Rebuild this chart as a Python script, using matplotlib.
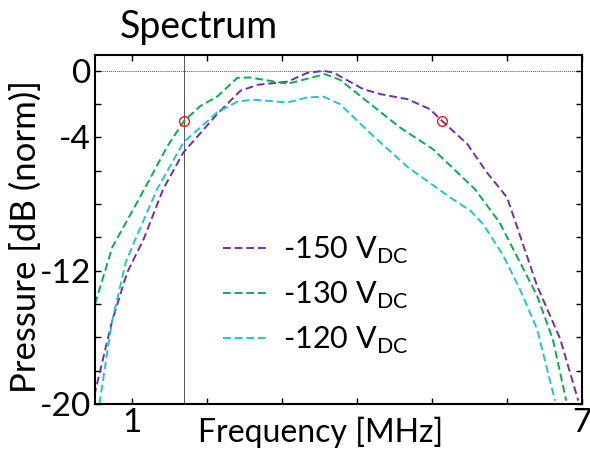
import matplotlib
matplotlib.use("Agg")
import matplotlib.pyplot as plt
from matplotlib.ticker import MultipleLocator, FuncFormatter

plt.rcParams['font.family'] = ['Lato', 'DejaVu Sans']

# Data (frequency in MHz, pressure in dB normalized)
freq_150 = [0.49, 0.67, 0.73, 0.93, 1.15, 1.41, 1.68, 2.13, 2.44, 2.67, 3.07, 3.33, 3.55, 3.68, 4.08, 4.31, 4.67, 4.97, 5.13, 5.47, 5.73, 6.0, 6.4, 6.71, 6.95]
p_150 = [-19.5, -16.1, -15.0, -12.1, -10.1, -7.1, -4.9, -2.6, -1.2, -0.84, -0.65, -0.13, 0.0, -0.1, -1.1, -1.4, -1.7, -2.3, -3.0, -4.4, -6.1, -7.6, -12.9, -16.1, -19.8]

freq_130 = [0.5, 0.73, 1.11, 1.47, 1.69, 1.91, 2.13, 2.4, 2.57, 3.07, 3.57, 3.77, 4.57, 5.01, 5.57, 5.9, 6.4, 6.61, 6.79]
p_130 = [-14.0, -10.6, -7.5, -4.5, -3.0, -2.1, -1.55, -0.42, -0.4, -0.78, -0.2, -0.54, -3.4, -4.7, -7.1, -9.1, -13.5, -16.1, -19.8]

freq_120 = [0.56, 0.67, 0.73, 0.91, 1.04, 1.33, 1.68, 2.13, 2.4, 2.61, 3.07, 3.33, 3.55, 3.77, 4.21, 4.68, 5.24, 5.51, 5.68, 5.95, 6.17, 6.4, 6.64]
p_120 = [-20.0, -16.7, -15.0, -11.5, -10.1, -7.1, -4.3, -2.5, -1.85, -1.73, -1.9, -1.6, -1.55, -2.0, -3.9, -5.8, -7.6, -8.4, -9.2, -11.1, -13.1, -15.5, -19.8]

series_labels = ['-150 V$_{\\mathregular{DC}}$', '-130 V$_{\\mathregular{DC}}$', '-120 V$_{\\mathregular{DC}}$']
colors = ['#7030A0', '#00B050', '#1CC8D0']

marker_freq = [1.69, 5.13]
marker_p = [-3.0, -3.0]
vline_freq = 1.69

fig = plt.figure(figsize=(5.9, 4.54), dpi=100)
ax = fig.add_axes([95/590, 1-404/454, (582-95)/590, (404-55)/454])

for f, p, lab, c in zip([freq_150, freq_130, freq_120], [p_150, p_130, p_120], series_labels, colors):
    ax.plot(f, p, color=c, lw=1.4, ls=(0, (4, 2)), label=lab)

ax.axhline(0, color='#555555', lw=0.7, ls=(0, (1, 1)), zorder=0)
ax.axvline(vline_freq, color='#555555', lw=0.7, zorder=0)
ax.plot(marker_freq, marker_p, ls='none', marker='o', ms=7, mfc='none', mec='red', mew=0.9)

ax.set_xlim(0.5, 7)
ax.set_ylim(-20, 0.95)
ax.xaxis.set_major_locator(MultipleLocator(1))
ax.yaxis.set_major_locator(MultipleLocator(2))
ax.xaxis.set_major_formatter(FuncFormatter(lambda v, pos: f"{v:.0f}" if round(v) in (1, 7) else ""))
ax.yaxis.set_major_formatter(FuncFormatter(lambda v, pos: f"{v:.0f}".replace("-0", "0") if round(v) in (0, -4, -12, -20) else ""))
ax.tick_params(direction='in', length=4, width=1.0, top=True, right=True, labelsize=24, pad=3)
for s in ax.spines.values():
    s.set_linewidth(1.5)

ax.set_xlabel('Frequency [MHz]', fontsize=23)
ax.xaxis.set_label_coords(0.464, -0.035)
ax.set_ylabel('Pressure [dB (norm)]', fontsize=25)
ax.yaxis.set_label_coords(-0.11, 0.48)

fig.text(120/590, 1-27/454, 'Spectrum', fontsize=27, ha='left', va='center')

leg = ax.legend(loc='upper left', bbox_to_anchor=(0.238, 0.52), frameon=False, fontsize=22,
                handlelength=1.5, handletextpad=0.45, labelspacing=0.45, borderaxespad=0)

fig.savefig('out.png', dpi=100)
